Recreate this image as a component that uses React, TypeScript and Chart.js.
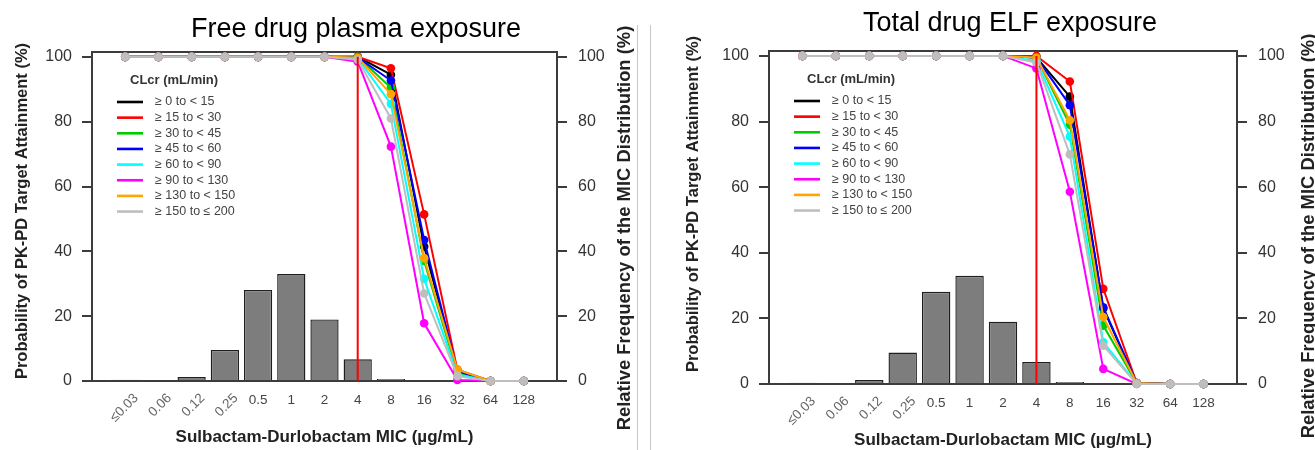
import React, { useEffect, useRef } from "react";
import { Chart, registerables } from "chart.js";

Chart.register(...registerables);

// ---------- data ----------
const micLabels = ["≤0.03", "0.06", "0.12", "0.25", "0.5", "1", "2", "4", "8", "16", "32", "64", "128"];
const breakpointMic = "4";

const clcrLabels = [
  "≥ 0 to < 15",
  "≥ 15 to < 30",
  "≥ 30 to < 45",
  "≥ 45 to < 60",
  "≥ 60 to < 90",
  "≥ 90 to < 130",
  "≥ 130 to < 150",
  "≥ 150 to ≤ 200",
];
const clcrColors = ["#000000", "#ff0000", "#00cd00", "#0000ff", "#00ffff", "#ff00ff", "#ffa500", "#bebebe"];

// relative frequency of the MIC distribution (%)
const micFrequency = [0.4, 0.3, 1.2, 9.6, 28.1, 33.0, 19.0, 6.7, 0.6, 0.3, 0.2, 0, 0];

// free drug plasma exposure – PTA (%)
const plasma0to15 = [100, 100, 100, 100, 100, 100, 100, 100, 94.5, 41.5, 3, 0, 0];
const plasma15to30 = [100, 100, 100, 100, 100, 100, 100, 100, 96.5, 51.4, 3.5, 0, 0];
const plasma30to45 = [100, 100, 100, 100, 100, 100, 100, 100, 90.5, 37, 2.5, 0, 0];
const plasma45to60 = [100, 100, 100, 100, 100, 100, 100, 99.8, 92.7, 43.5, 3, 0, 0];
const plasma60to90 = [100, 100, 100, 100, 100, 100, 100, 99.5, 85.5, 31.5, 2, 0, 0];
const plasma90to130 = [100, 100, 100, 100, 100, 100, 100, 98.5, 72.3, 17.8, 0.3, 0, 0];
const plasma130to150 = [100, 100, 100, 100, 100, 100, 100, 99.8, 88.5, 37.9, 3.5, 0, 0];
const plasma150to200 = [100, 100, 100, 100, 100, 100, 100, 99.1, 81, 27, 1.5, 0, 0];

// total drug ELF exposure – PTA (%)
const elf0to15 = [100, 100, 100, 100, 100, 100, 100, 99.5, 87.6, 23, 0.3, 0, 0];
const elf15to30 = [100, 100, 100, 100, 100, 100, 100, 100, 92.2, 29, 0.3, 0, 0];
const elf30to45 = [100, 100, 100, 100, 100, 100, 100, 99.5, 79, 17.8, 0.2, 0, 0];
const elf45to60 = [100, 100, 100, 100, 100, 100, 100, 99.5, 85, 23.4, 0.3, 0, 0];
const elf60to90 = [100, 100, 100, 100, 100, 100, 100, 98.5, 75.4, 12.7, 0.1, 0, 0];
const elf90to130 = [100, 100, 100, 100, 100, 100, 100, 96.2, 58.6, 4.6, 0, 0, 0];
const elf130to150 = [100, 100, 100, 100, 100, 100, 100, 99.5, 80.4, 20.4, 0.3, 0, 0];
const elf150to200 = [100, 100, 100, 100, 100, 100, 100, 98, 70, 11.7, 0, 0, 0];

const plasmaSeries = [plasma0to15, plasma15to30, plasma30to45, plasma45to60, plasma60to90, plasma90to130, plasma130to150, plasma150to200];
const elfSeries = [elf0to15, elf15to30, elf30to45, elf45to60, elf60to90, elf90to130, elf130to150, elf150to200];

const yTicks = [0, 20, 40, 60, 80, 100];
const legendTitle = "CLcr (mL/min)";
const leftAxisTitle = "Probability of PK-PD Target Attainment (%)";
const rightAxisTitle = "Relative Frequency of the MIC Distribution (%)";
const xAxisTitle = "Sulbactam-Durlobactam MIC (µg/mL)";

// ---------- layout ----------
const FONT = '"Liberation Sans", Arial, sans-serif';
const FRAME = "#3c3c3c";

type Panel = {
  title: string;
  series: number[][];
  canvasLeft: number;
  canvasWidth: number;
  areaLeft: number;
  areaRight: number;
  areaTop: number;
  areaBottom: number;
  titleX: number;
  titleBaseline: number;
  leftTitleX: number;
  leftTitleY: number;
  rightTitleX: number;
  rightTitleY: number;
};

const panels: Panel[] = [
  {
    title: "Free drug plasma exposure",
    series: plasmaSeries,
    canvasLeft: 0,
    canvasWidth: 645,
    areaLeft: 92,
    areaRight: 557,
    areaTop: 52,
    areaBottom: 381,
    titleX: 356,
    titleBaseline: 37,
    leftTitleX: 22,
    leftTitleY: 211,
    rightTitleX: 625,
    rightTitleY: 228,
  },
  {
    title: "Total drug ELF exposure",
    series: elfSeries,
    canvasLeft: 652,
    canvasWidth: 663,
    areaLeft: 117,
    areaRight: 585,
    areaTop: 51,
    areaBottom: 384,
    titleX: 358,
    titleBaseline: 31,
    leftTitleX: 41,
    leftTitleY: 204,
    rightTitleX: 657,
    rightTitleY: 236,
  },
];

function decorPlugin(p: Panel) {
  return {
    id: "decor",
    afterDraw(chart: any) {
      const { ctx, chartArea } = chart;
      const xs = chart.scales.x;
      ctx.save();
      // panel title
      ctx.fillStyle = "#000";
      ctx.font = `27px ${FONT}`;
      ctx.textAlign = "center";
      ctx.textBaseline = "alphabetic";
      ctx.fillText(p.title, p.titleX, p.titleBaseline);

      // axis titles
      ctx.fillStyle = "#222";
      ctx.textBaseline = "middle";
      ctx.font = `bold 16.5px ${FONT}`;
      ctx.save();
      ctx.translate(p.leftTitleX, p.leftTitleY);
      ctx.rotate(-Math.PI / 2);
      ctx.fillText(leftAxisTitle, 0, 0);
      ctx.restore();
      ctx.font = `bold 18.4px ${FONT}`;
      ctx.save();
      ctx.translate(p.rightTitleX, p.rightTitleY);
      ctx.rotate(-Math.PI / 2);
      ctx.fillText(rightAxisTitle, 0, 0);
      ctx.restore();
      ctx.font = `bold 17px ${FONT}`;
      ctx.fillText(xAxisTitle, (chartArea.left + chartArea.right) / 2, chartArea.bottom + 56);

      // x tick labels
      ctx.font = `13.5px ${FONT}`;
      micLabels.forEach((lab, i) => {
        const px = xs.getPixelForValue(i);
        if (lab.length >= 4) {
          ctx.fillStyle = "#666";
          ctx.save();
          ctx.translate(px + 11, chartArea.bottom + 15);
          ctx.rotate(-Math.PI / 4);
          ctx.textAlign = "right";
          ctx.fillText(lab, 0, 0);
          ctx.restore();
        } else {
          ctx.fillStyle = "#444";
          ctx.textAlign = "center";
          ctx.fillText(lab, px, chartArea.bottom + 19);
        }
      });

      // legend
      const lx = chartArea.left;
      const ly = chartArea.top;
      ctx.textAlign = "left";
      ctx.fillStyle = "#333";
      ctx.font = `bold 13px ${FONT}`;
      ctx.fillText(legendTitle, lx + 38, ly + 28);
      ctx.font = `12.5px ${FONT}`;
      clcrLabels.forEach((lab, i) => {
        const y = ly + 50 + i * 15.65;
        ctx.strokeStyle = clcrColors[i];
        ctx.lineWidth = 2.6;
        ctx.beginPath();
        ctx.moveTo(lx + 25, y);
        ctx.lineTo(lx + 51, y);
        ctx.stroke();
        ctx.fillStyle = "#444";
        ctx.fillText(lab, lx + 63, y);
      });
      ctx.restore();
    },
  };
}

function PanelChart({ p }: { p: Panel }) {
  const ref = useRef<HTMLCanvasElement | null>(null);
  useEffect(() => {
    if (!ref.current) return;
    const bpIndex = micLabels.indexOf(breakpointMic);
    const lineSets = p.series.map((vals, i) => ({
      type: "line" as const,
      label: clcrLabels[i],
      data: vals.map((v, j) => ({ x: j, y: v })),
      borderColor: clcrColors[i],
      backgroundColor: clcrColors[i],
      pointBackgroundColor: clcrColors[i],
      pointBorderColor: clcrColors[i],
      pointBorderWidth: 0,
      pointRadius: 4.3,
      borderWidth: 2,
      tension: 0,
      clip: false as any,
      xAxisID: "x",
      yAxisID: "y",
      order: clcrLabels.length - i,
    }));
    const chart = new Chart(ref.current, {
      type: "bar",
      data: {
        datasets: [
          {
            type: "bar" as const,
            label: "MIC distribution",
            data: micFrequency.map((v, j) => ({ x: j, y: v })),
            backgroundColor: "#7d7d7d",
            borderColor: "#1e1e1e",
            borderWidth: 1.4,
            borderSkipped: "start",
            categoryPercentage: 1,
            barPercentage: 0.85,
            xAxisID: "x",
            yAxisID: "y1",
            order: 20,
          } as any,
          ...lineSets,
          {
            type: "line" as const,
            label: "breakpoint",
            data: [
              { x: bpIndex, y: 0 },
              { x: bpIndex, y: 100 },
            ],
            borderColor: "#ff0000",
            borderWidth: 2,
            pointRadius: 0,
            clip: false as any,
            xAxisID: "x",
            yAxisID: "y",
            order: 0,
          },
        ],
      },
      options: {
        animation: false,
        responsive: false,
        devicePixelRatio: 1,
        events: [],
        layout: { padding: { top: p.areaTop, left: 0, right: 0, bottom: 0 } },
        plugins: { legend: { display: false }, tooltip: { enabled: false }, title: { display: false } },
        scales: {
          x: {
            type: "linear",
            position: "bottom",
            min: -1,
            max: micLabels.length,
            offset: false,
            ticks: { display: false, stepSize: 1 },
            grid: { display: false, offset: false },
            border: { display: true, color: FRAME, width: 2 },
            afterFit: (s: any) => {
              s.height = 450 - p.areaBottom;
            },
          },
          xTop: {
            type: "linear",
            position: "top",
            min: -1,
            max: micLabels.length,
            ticks: { display: false },
            grid: { display: false },
            border: { display: true, color: FRAME, width: 2 },
            afterFit: (s: any) => {
              s.height = 0;
            },
          },
          y: {
            type: "linear",
            position: "left",
            min: 0,
            max: 101.5,
            afterBuildTicks: (s: any) => {
              s.ticks = yTicks.map((v) => ({ value: v }));
            },
            ticks: { color: "#333", font: { family: FONT, size: 16 }, padding: 10 },
            grid: { drawOnChartArea: false, drawTicks: true, tickLength: 10, color: FRAME, lineWidth: 2 },
            border: { display: true, color: FRAME, width: 2 },
            afterFit: (s: any) => {
              s.width = p.areaLeft;
            },
          },
          y1: {
            type: "linear",
            position: "right",
            min: 0,
            max: 101.5,
            afterBuildTicks: (s: any) => {
              s.ticks = yTicks.map((v) => ({ value: v }));
            },
            ticks: { color: "#333", font: { family: FONT, size: 16 }, padding: 11 },
            grid: { drawOnChartArea: false, drawTicks: true, tickLength: 10, color: FRAME, lineWidth: 2 },
            border: { display: true, color: FRAME, width: 2 },
            afterFit: (s: any) => {
              s.width = p.canvasWidth - p.areaRight;
            },
          },
        },
      } as any,
      plugins: [decorPlugin(p)],
    });
    return () => chart.destroy();
  }, [p]);
  return (
    <canvas
      ref={ref}
      width={p.canvasWidth}
      height={450}
      style={{ position: "absolute", left: p.canvasLeft, top: 0, width: p.canvasWidth, height: 450, display: "block" }}
    />
  );
}

export default function App() {
  return (
    <div style={{ position: "absolute", left: 0, top: 0, width: 1315, height: 450, background: "#fff", overflow: "hidden" }}>
      {panels.map((p) => (
        <PanelChart key={p.title} p={p} />
      ))}
      <div style={{ position: "absolute", left: 637, top: 25, width: 1, height: 425, background: "#c8c8c8" }} />
      <div style={{ position: "absolute", left: 650, top: 25, width: 1, height: 425, background: "#c8c8c8" }} />
    </div>
  );
}
